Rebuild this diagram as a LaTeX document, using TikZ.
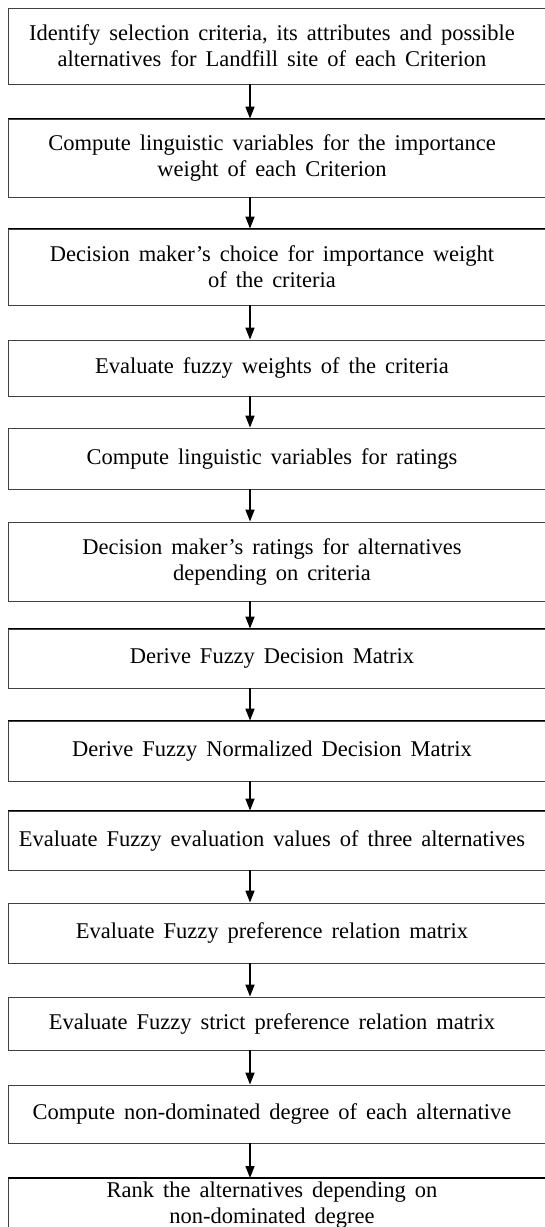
\documentclass[tikz,border=0pt]{standalone}
\usepackage{fontspec}
\setmainfont{Liberation Serif}
\usetikzlibrary{arrows.meta}
\newcommand\wsp{\spaceskip=0.4em plus 0.1em\relax}
\begin{document}
\begin{tikzpicture}[x=1pt,y=-1pt,
  boxshape/.style={draw=black!75,line width=0.9pt,rectangle,inner sep=0pt,minimum width=540pt},
  txt/.style={inner sep=0pt,align=center,font=\fontsize{22.5}{26}\selectfont},
  thicktop/.style={line width=1.5pt,black},
  flow/.style={line width=1.6pt,-{Triangle[length=12pt,width=9pt]}}]
\useasboundingbox (0,0) rectangle (545,1227);
\newcommand\bx[5]{\pgfmathsetmacro\hh{#3-#2}\pgfmathsetmacro\cy{(#2+#3)/2}%
  \node[boxshape,minimum height=\hh pt] (#1) at (278,\cy) {};
  \node[txt] (#4) at (272,\cy) {\wsp #5};}
\bx{b1}{8}{84}{t1}{Identify selection criteria, its attributes and possible\\\wsp alternatives for Landfill site of each Criterion}
\bx{b2}{119}{197}{t2}{Compute linguistic variables for the importance\\\wsp weight of each Criterion}
\bx{b3}{229}{305}{t3}{Decision maker’s choice for importance weight\\\wsp of the criteria}
\bx{b4}{340}{396}{t4}{Evaluate fuzzy weights of the criteria}
\bx{b5}{428}{489}{t5}{Compute linguistic variables for ratings}
\bx{b6}{522}{601}{t6}{Decision maker’s ratings for alternatives\\\wsp depending on criteria}
\bx{b7}{629}{688}{t7}{Derive Fuzzy Decision Matrix}
\bx{b8}{721}{781}{t8}{Derive Fuzzy Normalized Decision Matrix}
\bx{b9}{811}{870}{t9}{Evaluate Fuzzy evaluation values of three alternatives}
\bx{b10}{903}{963}{t10}{Evaluate Fuzzy preference relation matrix}
\bx{b11}{997}{1050}{t11}{Evaluate Fuzzy strict preference relation matrix}
\bx{b12}{1085}{1143}{t12}{Compute non-dominated degree of each alternative}
\node[boxshape,minimum height=70pt,anchor=north] (b13) at (278,1178) {};
\node[txt] (t13) at (272,1205) {\wsp Rank the alternatives depending on\\\wsp non-dominated degree};
\foreach \b in {b2,b3,b7,b8,b9,b13}
  \draw[thicktop] (\b.north west) -- (\b.north east);
\coordinate (ax) at (250,0);
\foreach \a/\b in {b1/b2,b2/b3,b3/b4,b4/b5,b5/b6,b6/b7,b7/b8,b8/b9,b9/b10,b10/b11,b11/b12,b12/b13}
  \draw[flow] (\a.south -| ax) -- (\b.north -| ax);
\end{tikzpicture}
\end{document}
